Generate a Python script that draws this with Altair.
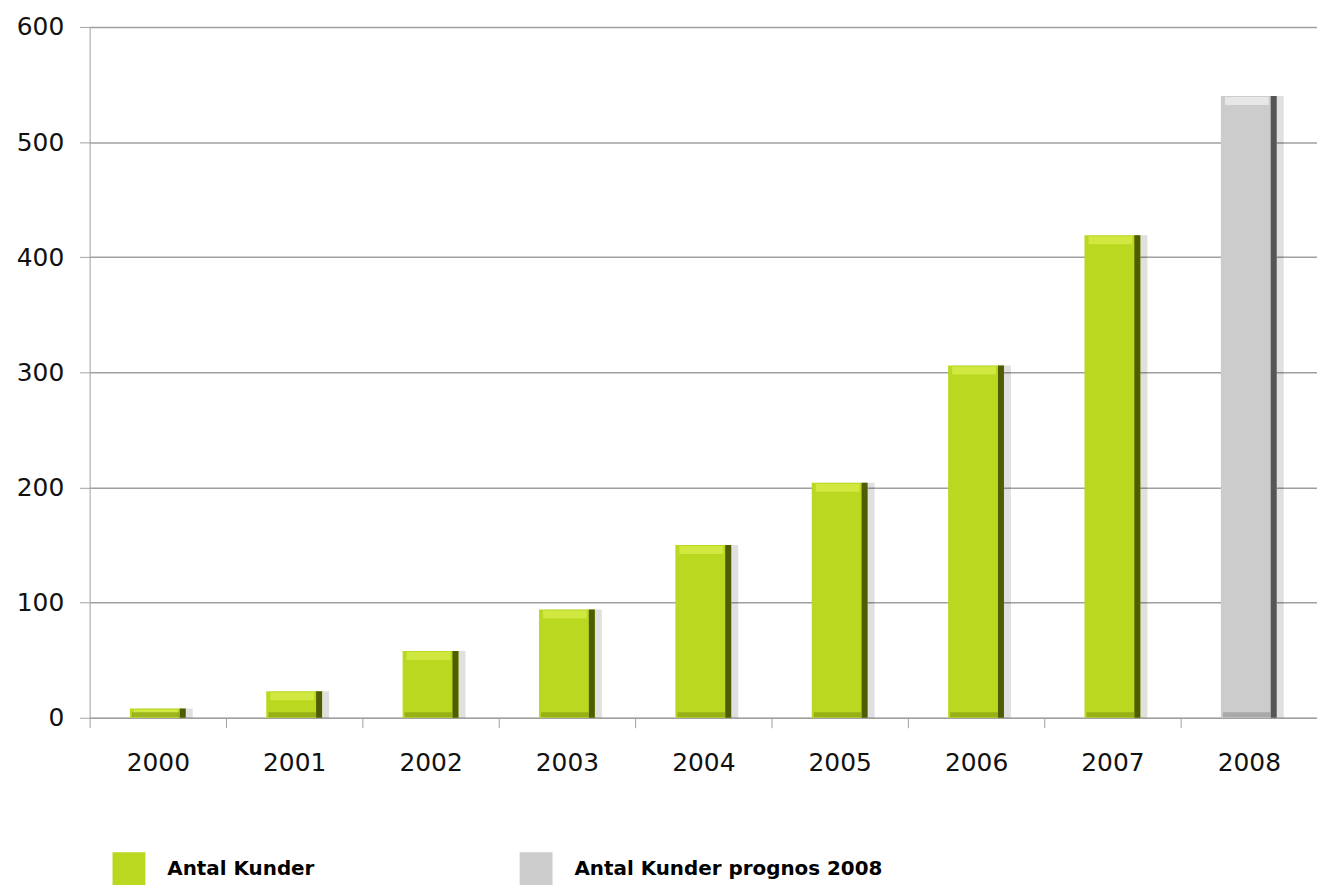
import altair as alt
import pandas as pd

years = ["2000", "2001", "2002", "2003", "2004", "2005", "2006", "2007", "2008"]
customers = [8, 23, 58, 94, 150, 204, 306, 419, 540]
series = ["Antal Kunder"] * 8 + ["Antal Kunder prognos 2008"]

series_names = ["Antal Kunder", "Antal Kunder prognos 2008"]
series_colors = ["#b9d81f", "#cccccc"]
top_colors = ["#dcf04e", "#f2f2f2"]
edge_colors = ["#4f5c05", "#555555"]
bottom_colors = ["#8aa012", "#9a9a9a"]

df = pd.DataFrame({"year": years, "value": customers, "series": series})

FONT = "DejaVu Sans"

x_enc = alt.X(
    "year:N",
    title=None,
    sort=years,
    scale=alt.Scale(paddingInner=0, paddingOuter=0),
    axis=alt.Axis(
        labelAngle=0, labelFont=FONT, labelFontSize=25, labelColor="#111111",
        labelPadding=23, tickBand="extent", tickSize=10, tickColor="#a0a0a0",
        domainColor="#a0a0a0", grid=False,
    ),
)
y_enc = alt.Y(
    "value:Q",
    title=None,
    scale=alt.Scale(domain=[0, 600]),
    axis=alt.Axis(
        values=[0, 100, 200, 300, 400, 500, 600], labelFont=FONT, labelFontSize=25,
        labelColor="#111111", labelPadding=16, tickSize=10, tickColor="#a0a0a0",
        domainColor="#a0a0a0", gridColor="#a0a0a0", gridWidth=1.5,
    ),
)

BAND = {"band": 0.41}

shadow = alt.Chart(df).mark_bar(width=BAND, xOffset=7, color="#000000", opacity=0.12).encode(
    x=x_enc, y=y_enc
)

bars = alt.Chart(df).mark_bar(width=BAND).encode(
    x=x_enc,
    y=y_enc,
    color=alt.Color(
        "series:N",
        scale=alt.Scale(domain=series_names, range=series_colors),
        legend=alt.Legend(
            title=None, orient="none", legendX=23, legendY=829, direction="horizontal",
            symbolType="square", symbolSize=1089, symbolStrokeWidth=0,
            labelFont=FONT, labelFontSize=20, labelFontWeight="bold", labelColor="#000000",
            labelOffset=22, labelBaseline="middle", columnPadding=206, labelLimit=400,
            padding=0,
        ),
    ),
)

edge = alt.Chart(df).mark_bar(width=6, xOffset=25).encode(
    x=x_enc,
    y=y_enc,
    color=alt.Color("series:N", scale=alt.Scale(domain=series_names, range=edge_colors), legend=None),
)

top = alt.Chart(df).mark_tick(thickness=8, size=44, yOffset=5, xOffset=-2).encode(
    x=x_enc,
    y=y_enc,
    color=alt.Color("series:N", scale=alt.Scale(domain=series_names, range=top_colors), legend=None),
)

bottom = alt.Chart(df).mark_tick(thickness=5, size=48, yOffset=-3, xOffset=-2).encode(
    x=x_enc,
    y=alt.datum(0),
    color=alt.Color("series:N", scale=alt.Scale(domain=series_names, range=bottom_colors), legend=None),
)

chart = (
    alt.layer(shadow, bars, edge, top, bottom)
    .resolve_scale(color="independent")
    .properties(
        width=1233, height=694,
        autosize=alt.AutoSizeParams(type="none"),
        padding={"left": 82, "top": 17, "right": 0, "bottom": 166},
    )
    .configure_view(stroke=None)
)

chart.save("out.html", embed_options={"renderer": "svg", "actions": False})
